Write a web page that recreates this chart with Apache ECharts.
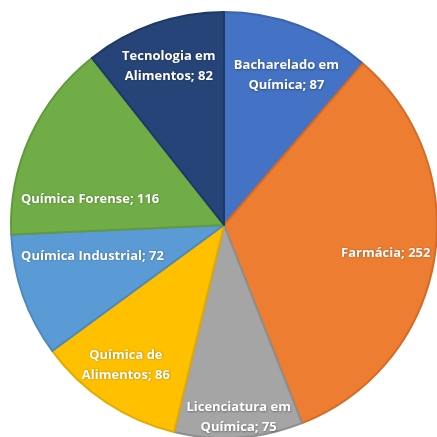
<!DOCTYPE html>
<html>
<head>
<meta charset="utf-8">
<script src="https://cdn.jsdelivr.net/npm/echarts@6/dist/echarts.min.js"></script>
<style>
  html, body { margin: 0; padding: 0; background: #fff; }
  #chart { width: 437px; height: 437px; }
</style>
</head>
<body>
<div id="chart"></div>
<script>
// cursos e número de respostas
var cursos = ['Bacharelado em\nQuímica', 'Farmácia', 'Licenciatura em\nQuímica', 'Química de\nAlimentos',
  'Química Industrial', 'Química Forense', 'Tecnologia em\nAlimentos'];
var valores = [87, 252, 75, 86, 72, 116, 82];

var cores = ['#4472C4', '#ED7D31', '#A5A5A5', '#FFC000', '#5B9BD5', '#70AD47', '#264478'];
var bordas = ['#3B64AE', '#D46C27', '#8E8E8E', '#E3AA00', '#4D89C0', '#619A3C', '#1E3966'];
// ajuste manual de alguns rótulos (como o "melhor ajuste" do Excel)
var ajusteRotulo = { 0: [4, 8], 1: [-4, 0], 2: [3, 25], 3: [-5, 0], 4: [27, -25], 5: [19, 44] };

var chart = echarts.init(document.getElementById('chart'));
var R = 213;
var centro = [224, 225];

var dadosFatias = valores.map(function (v, i) {
  return {
    name: cursos[i],
    value: v,
    itemStyle: { color: cores[i], borderColor: bordas[i] }
  };
});
var dadosRotulos = valores.map(function (v, i) {
  return { name: cursos[i], value: v };
});

chart.setOption({
  backgroundColor: '#fff',
  animation: false,
  series: [
    {
      type: 'pie',
      center: centro,
      radius: [0, R],
      startAngle: 90,
      clockwise: true,
      silent: true,
      itemStyle: { borderWidth: 2 },
      label: { show: false },
      labelLine: { show: false },
      data: dadosFatias
    },
    {
      // série invisível só para posicionar os rótulos a ~77% do raio
      type: 'pie',
      center: centro,
      radius: [R * 0.55, R],
      startAngle: 90,
      clockwise: true,
      silent: true,
      itemStyle: { color: 'rgba(0,0,0,0)', borderWidth: 0 },
      label: {
        show: true,
        position: 'inside',
        formatter: function (p) { return p.name + '; ' + p.value; },
        color: '#fff',
        fontFamily: 'Open Sans',
        fontWeight: 'bold',
        fontSize: 13,
        lineHeight: 20,
        align: 'center',
        textShadowColor: 'rgba(0,0,0,0.35)',
        textShadowBlur: 2,
        textShadowOffsetX: 0.5,
        textShadowOffsetY: 0.5
      },
      labelLayout: function (p) {
        var a = ajusteRotulo[p.dataIndex];
        return a ? { dx: a[0], dy: a[1] } : {};
      },
      labelLine: { show: false },
      data: dadosRotulos
    }
  ]
});
</script>
</body>
</html>
